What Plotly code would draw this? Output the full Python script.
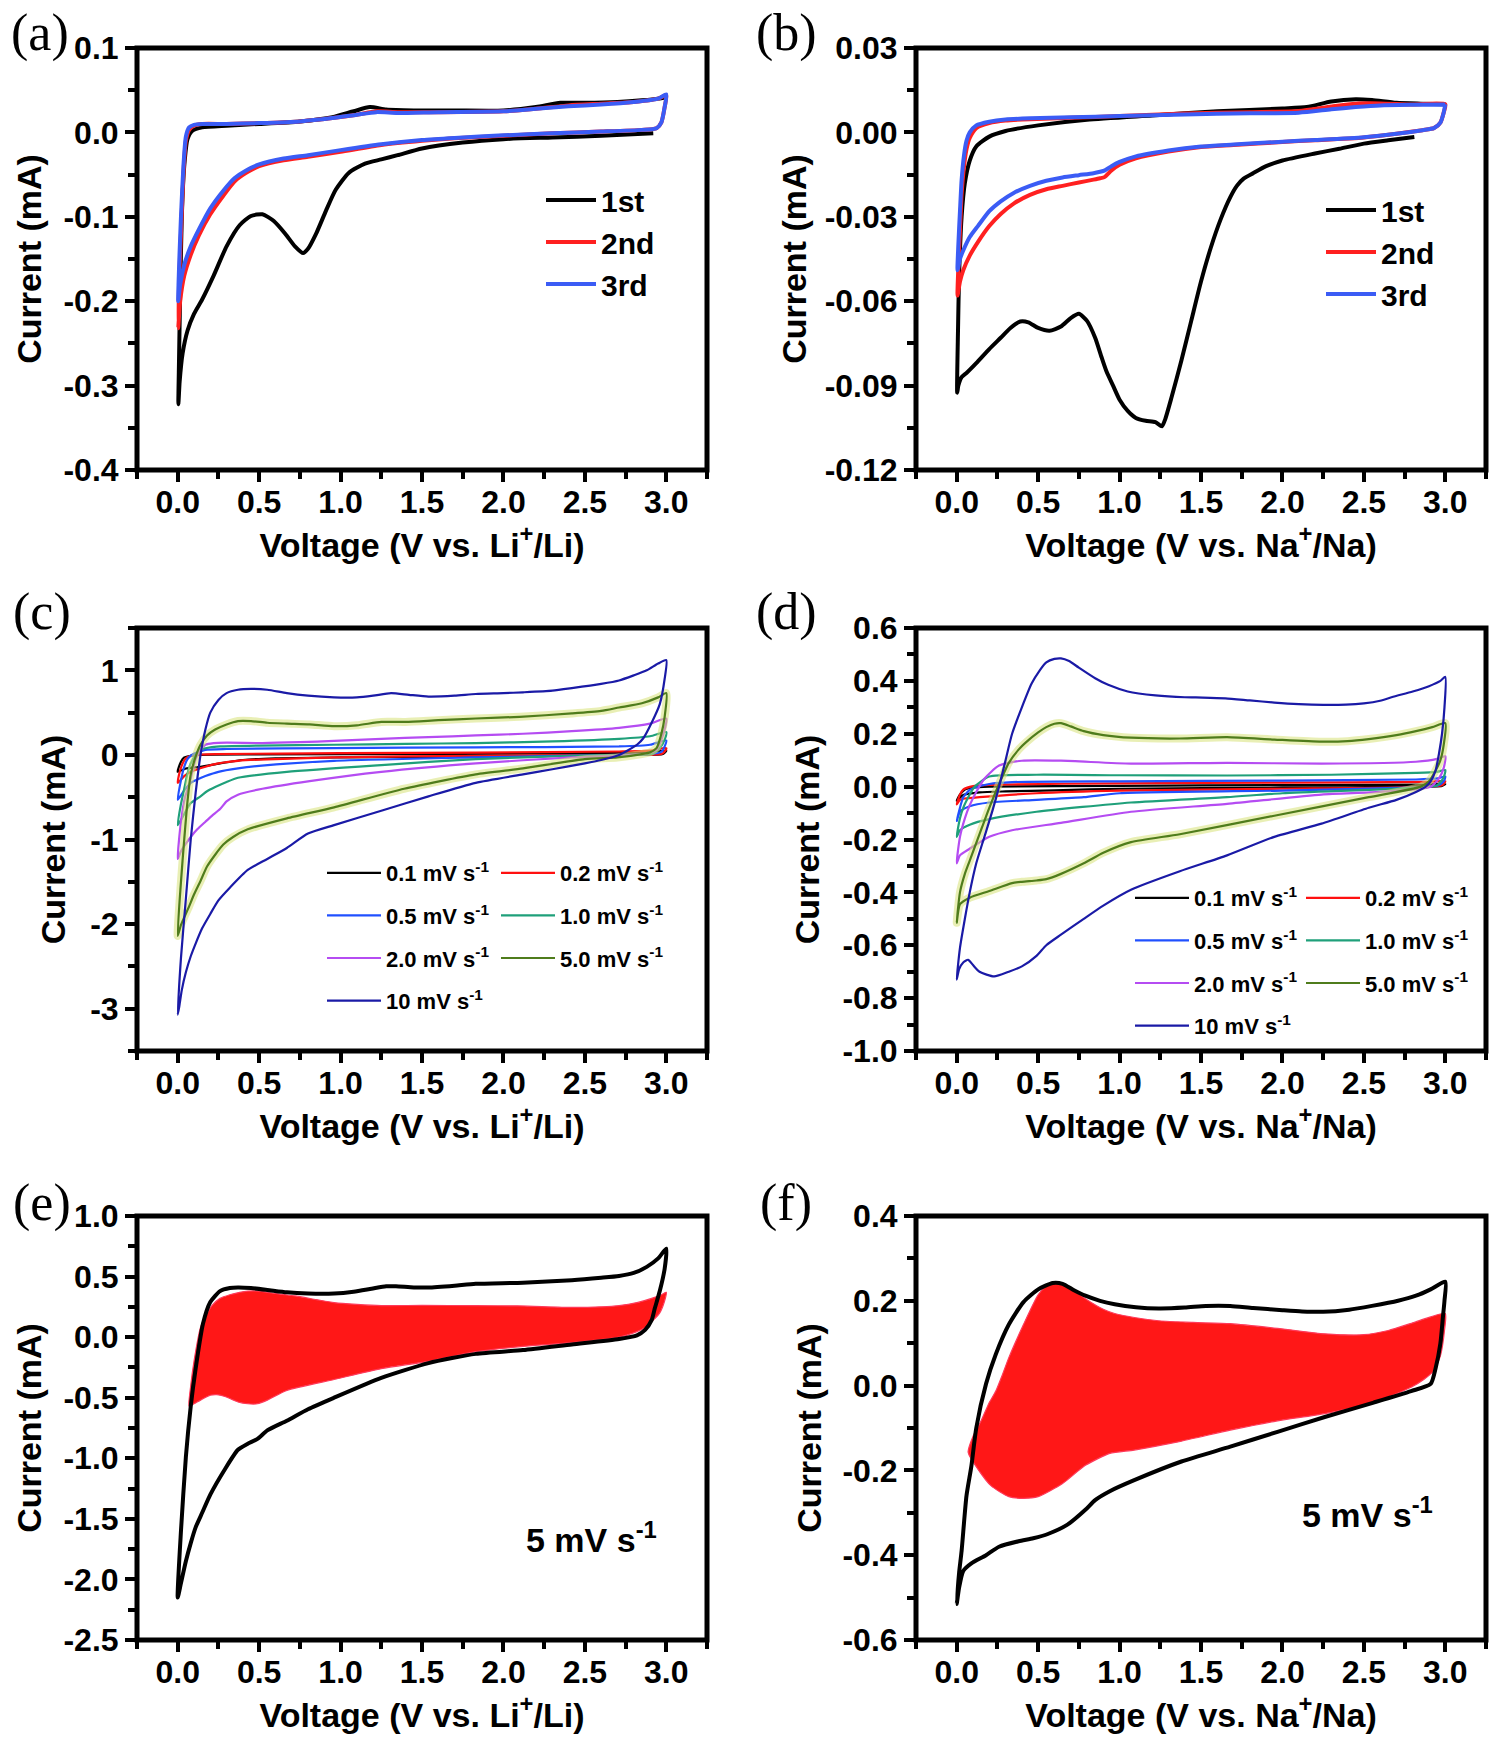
import plotly.graph_objects as go

# ---------------- DATA ----------------
# (a) Li, first three cycles at low rate
A1_V = [2.92, 2.6, 2.3, 2.0, 1.75, 1.5, 1.35, 1.25, 1.15, 1.05, 0.97, 0.91, 0.85, 0.80, 0.77, 0.72, 0.66, 0.59, 0.52, 0.45, 0.38, 0.30, 0.22, 0.15, 0.10, 0.06, 0.03, 0.012, 0.004, 0.008, 0.015, 0.025, 0.04, 0.06, 0.09, 0.15, 0.3, 0.5, 0.75, 0.95, 1.08, 1.18, 1.28, 1.45, 1.7, 2.0, 2.2, 2.35, 2.5, 2.7, 2.85, 2.95, 3.0]
A1_I = [-0.001, -0.004, -0.006, -0.008, -0.012, -0.019, -0.027, -0.032, -0.037, -0.048, -0.068, -0.093, -0.120, -0.138, -0.143, -0.135, -0.120, -0.105, -0.097, -0.099, -0.110, -0.135, -0.170, -0.198, -0.215, -0.235, -0.262, -0.295, -0.322, -0.27, -0.19, -0.10, -0.04, -0.008, 0.002, 0.006, 0.008, 0.010, 0.013, 0.018, 0.025, 0.030, 0.027, 0.026, 0.026, 0.026, 0.030, 0.035, 0.035, 0.036, 0.038, 0.040, 0.042]
A2_V = [3.0, 2.99, 2.97, 2.94, 2.85, 2.6, 2.3, 2.0, 1.7, 1.5, 1.25, 1.0, 0.8, 0.65, 0.5, 0.42, 0.35, 0.28, 0.2, 0.13, 0.08, 0.04, 0.015, 0.003, 0.01, 0.02, 0.035, 0.05, 0.07, 0.1, 0.15, 0.3, 0.5, 0.75, 0.95, 1.1, 1.22, 1.35, 1.6, 2.0, 2.2, 2.4, 2.6, 2.8, 2.95, 3.0]
A2_I = [0.044, 0.030, 0.012, 0.005, 0.003, 0.001, -0.001, -0.004, -0.007, -0.010, -0.015, -0.023, -0.029, -0.033, -0.040, -0.048, -0.058, -0.075, -0.097, -0.122, -0.145, -0.170, -0.200, -0.232, -0.17, -0.12, -0.05, -0.01, 0.003, 0.008, 0.010, 0.010, 0.011, 0.013, 0.017, 0.021, 0.025, 0.024, 0.024, 0.025, 0.028, 0.032, 0.034, 0.036, 0.040, 0.044]
A3_V = [3.0, 2.99, 2.97, 2.94, 2.85, 2.6, 2.3, 2.0, 1.7, 1.5, 1.25, 1.0, 0.8, 0.65, 0.5, 0.42, 0.35, 0.28, 0.2, 0.13, 0.08, 0.04, 0.015, 0.003, 0.01, 0.02, 0.035, 0.05, 0.07, 0.1, 0.15, 0.3, 0.5, 0.75, 0.95, 1.1, 1.22, 1.35, 1.6, 2.0, 2.2, 2.4, 2.6, 2.8, 2.95, 3.0]
A3_I = [0.045, 0.030, 0.012, 0.005, 0.003, 0.001, -0.001, -0.0035, -0.0065, -0.009, -0.014, -0.021, -0.027, -0.031, -0.038, -0.045, -0.054, -0.069, -0.090, -0.115, -0.135, -0.157, -0.180, -0.200, -0.15, -0.10, -0.04, -0.005, 0.006, 0.009, 0.010, 0.010, 0.011, 0.013, 0.017, 0.021, 0.024, 0.023, 0.024, 0.025, 0.028, 0.031, 0.033, 0.036, 0.040, 0.045]

# (b) Na, first three cycles at low rate
B1_V = [2.81, 2.65, 2.5, 2.35, 2.2, 2.0, 1.9, 1.82, 1.76, 1.72, 1.68, 1.62, 1.56, 1.5, 1.44, 1.38, 1.32, 1.28, 1.26, 1.22, 1.16, 1.1, 1.05, 1.0, 0.96, 0.92, 0.89, 0.85, 0.8, 0.75, 0.7, 0.64, 0.57, 0.5, 0.44, 0.39, 0.33, 0.27, 0.2, 0.12, 0.06, 0.03, 0.01, 0.003, 0.008, 0.015, 0.03, 0.05, 0.08, 0.12, 0.2, 0.3, 0.5, 0.8, 1.2, 1.6, 2.0, 2.15, 2.3, 2.45, 2.55, 2.7, 2.85, 3.0]
B1_I = [-0.0016, -0.0028, -0.004, -0.0058, -0.0075, -0.010, -0.012, -0.0145, -0.0165, -0.019, -0.023, -0.031, -0.041, -0.053, -0.067, -0.081, -0.094, -0.102, -0.1045, -0.103, -0.1025, -0.1015, -0.099, -0.095, -0.090, -0.085, -0.080, -0.073, -0.067, -0.0645, -0.066, -0.069, -0.0705, -0.0695, -0.0675, -0.0672, -0.0695, -0.073, -0.077, -0.082, -0.0855, -0.087, -0.090, -0.0925, -0.070, -0.050, -0.030, -0.018, -0.010, -0.005, -0.0015, 0.0005, 0.0025, 0.0045, 0.006, 0.0075, 0.0085, 0.009, 0.011, 0.0118, 0.0115, 0.0105, 0.0102, 0.010]
B2_V = [3.0, 2.99, 2.97, 2.93, 2.86, 2.7, 2.5, 2.2, 2.0, 1.7, 1.5, 1.3, 1.1, 1.0, 0.95, 0.91, 0.88, 0.84, 0.75, 0.65, 0.55, 0.45, 0.35, 0.27, 0.2, 0.13, 0.08, 0.04, 0.02, 0.005, 0.01, 0.02, 0.03, 0.045, 0.06, 0.08, 0.12, 0.2, 0.3, 0.45, 0.7, 1.0, 1.4, 1.8, 2.1, 2.3, 2.45, 2.6, 2.8, 3.0]
B2_I = [0.010, 0.007, 0.0035, 0.0015, 0.0008, -0.0005, -0.0018, -0.0028, -0.0034, -0.0045, -0.0052, -0.0068, -0.0092, -0.0115, -0.0135, -0.0158, -0.0163, -0.0168, -0.0178, -0.019, -0.0202, -0.0222, -0.0253, -0.029, -0.0333, -0.039, -0.0438, -0.049, -0.053, -0.058, -0.048, -0.035, -0.022, -0.012, -0.006, -0.002, 0.0015, 0.0033, 0.0042, 0.0047, 0.0052, 0.0058, 0.0067, 0.0072, 0.0076, 0.0092, 0.0102, 0.0103, 0.0099, 0.010]
B3_V = [3.0, 2.99, 2.97, 2.93, 2.86, 2.7, 2.5, 2.2, 2.0, 1.7, 1.5, 1.3, 1.1, 1.0, 0.95, 0.91, 0.88, 0.84, 0.75, 0.65, 0.55, 0.45, 0.35, 0.27, 0.2, 0.13, 0.08, 0.04, 0.02, 0.005, 0.01, 0.02, 0.03, 0.045, 0.06, 0.08, 0.12, 0.2, 0.3, 0.45, 0.7, 1.0, 1.4, 1.8, 2.1, 2.3, 2.45, 2.6, 2.8, 3.0]
B3_I = [0.010, 0.007, 0.0035, 0.0015, 0.0008, -0.0005, -0.0017, -0.0027, -0.0033, -0.0043, -0.005, -0.0064, -0.0085, -0.0105, -0.012, -0.0135, -0.014, -0.0145, -0.0152, -0.016, -0.0172, -0.019, -0.0215, -0.0245, -0.028, -0.0333, -0.0372, -0.042, -0.045, -0.049, -0.040, -0.028, -0.017, -0.008, -0.003, 0.0, 0.0025, 0.0038, 0.0046, 0.005, 0.0054, 0.0058, 0.0064, 0.0068, 0.007, 0.0082, 0.009, 0.0096, 0.0098, 0.0099]

# (c) Li, different scan rates
C01_V = [0.0, 0.02, 0.04, 0.08, 0.14, 0.5, 1.5, 2.5, 2.9, 3.0, 2.98, 2.8, 1.83, 1.0, 0.6, 0.4, 0.26, 0.14, 0.05, 0.0]
C01_I = [-0.2, -0.08, -0.03, -0.01, 0.0, 0.005, 0.01, 0.02, 0.03, 0.05, 0.01, 0.0, -0.02, -0.03, -0.04, -0.06, -0.1, -0.14, -0.16, -0.2]
C02_V = [0.0, 0.02, 0.05, 0.08, 0.15, 0.23, 1.0, 1.83, 2.71, 2.9, 3.0, 2.99, 2.97, 2.8, 1.83, 0.96, 0.5, 0.37, 0.25, 0.17, 0.08, 0.04, 0.0]
C02_I = [-0.33, -0.15, -0.04, -0.01, 0.005, 0.01, 0.02, 0.026, 0.04, 0.05, 0.08, 0.04, 0.01, 0.0, -0.01, -0.03, -0.055, -0.07, -0.1, -0.14, -0.2, -0.25, -0.33]
C05_V = [0.0, 0.02, 0.04, 0.06, 0.08, 0.12, 0.17, 0.3, 0.96, 1.83, 2.71, 2.9, 3.0, 2.99, 2.97, 2.9, 2.71, 1.83, 0.96, 0.5, 0.37, 0.25, 0.17, 0.12, 0.08, 0.04, 0.0]
C05_I = [-0.53, -0.3, -0.14, -0.05, -0.01, 0.03, 0.06, 0.07, 0.08, 0.09, 0.10, 0.12, 0.17, 0.1, 0.035, 0.01, 0.0, -0.03, -0.07, -0.13, -0.16, -0.2, -0.25, -0.29, -0.33, -0.42, -0.53]
C1_V = [0.0, 0.02, 0.04, 0.06, 0.08, 0.11, 0.14, 0.2, 0.26, 0.5, 0.96, 1.4, 1.83, 2.3, 2.71, 2.9, 3.0, 2.99, 2.96, 2.91, 2.8, 2.42, 1.83, 1.25, 0.67, 0.37, 0.3, 0.23, 0.18, 0.14, 0.08, 0.04, 0.0]
C1_I = [-0.83, -0.58, -0.4, -0.22, -0.1, 0.0, 0.06, 0.09, 0.10, 0.11, 0.12, 0.13, 0.14, 0.16, 0.19, 0.22, 0.27, 0.18, 0.08, 0.01, 0.0, -0.01, -0.05, -0.12, -0.2, -0.27, -0.32, -0.38, -0.43, -0.49, -0.57, -0.7, -0.83]
C2_V = [0.0, 0.02, 0.045, 0.07, 0.09, 0.11, 0.14, 0.17, 0.22, 0.3, 0.52, 0.75, 0.96, 1.25, 1.54, 1.83, 2.12, 2.42, 2.71, 2.9, 3.0, 2.99, 2.97, 2.94, 2.88, 2.8, 2.42, 1.83, 1.25, 0.81, 0.52, 0.37, 0.3, 0.26, 0.21, 0.17, 0.12, 0.08, 0.05, 0.02, 0.0]
C2_I = [-1.23, -0.79, -0.5, -0.36, -0.2, -0.05, 0.06, 0.12, 0.14, 0.145, 0.14, 0.15, 0.165, 0.19, 0.21, 0.23, 0.25, 0.28, 0.32, 0.37, 0.43, 0.3, 0.18, 0.06, 0.02, 0.0, -0.03, -0.1, -0.2, -0.31, -0.40, -0.47, -0.55, -0.64, -0.72, -0.79, -0.88, -0.97, -1.05, -1.14, -1.23]
C5_V = [0.0, 0.02, 0.04, 0.06, 0.08, 0.11, 0.14, 0.18, 0.23, 0.3, 0.37, 0.45, 0.55, 0.67, 0.81, 0.96, 1.1, 1.25, 1.4, 1.6, 1.83, 2.1, 2.42, 2.6, 2.71, 2.85, 2.95, 3.0, 2.99, 2.97, 2.94, 2.9, 2.85, 2.7, 2.5, 2.12, 1.83, 1.39, 0.96, 0.67, 0.43, 0.34, 0.28, 0.23, 0.18, 0.14, 0.1, 0.07, 0.04, 0.02, 0.0]
C5_I = [-2.14, -1.5, -1.0, -0.55, -0.23, -0.02, 0.12, 0.23, 0.30, 0.36, 0.40, 0.40, 0.38, 0.37, 0.36, 0.34, 0.35, 0.39, 0.39, 0.41, 0.43, 0.45, 0.49, 0.52, 0.56, 0.61, 0.68, 0.73, 0.45, 0.25, 0.08, 0.03, 0.01, -0.03, -0.05, -0.16, -0.23, -0.40, -0.62, -0.75, -0.88, -0.97, -1.06, -1.18, -1.32, -1.49, -1.65, -1.79, -1.92, -2.01, -2.14]
C10_V = [0.0, 0.02, 0.05, 0.08, 0.11, 0.14, 0.17, 0.2, 0.25, 0.3, 0.37, 0.45, 0.55, 0.67, 0.8, 0.96, 1.1, 1.2, 1.31, 1.42, 1.54, 1.7, 1.83, 2.0, 2.12, 2.3, 2.42, 2.6, 2.71, 2.8, 2.88, 2.95, 3.0, 2.99, 2.96, 2.91, 2.86, 2.82, 2.76, 2.71, 2.6, 2.5, 2.3, 2.12, 1.83, 1.54, 1.25, 0.96, 0.8, 0.67, 0.55, 0.43, 0.32, 0.25, 0.2, 0.15, 0.11, 0.08, 0.05, 0.025, 0.01, 0.0]
C10_I = [-3.07, -2.4, -1.7, -1.0, -0.45, 0.0, 0.3, 0.5, 0.65, 0.73, 0.77, 0.78, 0.77, 0.73, 0.70, 0.68, 0.68, 0.70, 0.73, 0.71, 0.69, 0.70, 0.72, 0.73, 0.74, 0.76, 0.79, 0.84, 0.88, 0.94, 1.0, 1.08, 1.12, 0.9, 0.6, 0.38, 0.2, 0.12, 0.05, 0.0, -0.06, -0.1, -0.17, -0.23, -0.33, -0.49, -0.66, -0.83, -0.93, -1.1, -1.23, -1.36, -1.57, -1.72, -1.88, -2.05, -2.23, -2.38, -2.57, -2.78, -2.97, -3.07]

# (d) Na, different scan rates
D01_V = [0.0, 0.02, 0.05, 0.1, 0.2, 1.0, 2.0, 2.9, 3.0, 2.98, 2.8, 2.0, 1.0, 0.6, 0.3, 0.14, 0.04, 0.0]
D01_I = [-0.053, -0.03, -0.011, -0.003, 0.0, 0.003, 0.006, 0.008, 0.01, 0.003, 0.0, -0.004, -0.008, -0.014, -0.018, -0.022, -0.032, -0.053]
D02_V = [0.0, 0.02, 0.04, 0.08, 0.11, 0.3, 1.0, 2.0, 2.9, 3.0, 2.98, 2.8, 2.0, 1.0, 0.49, 0.14, 0.05, 0.02, 0.0]
D02_I = [-0.067, -0.03, -0.011, -0.001, 0.003, 0.008, 0.0125, 0.015, 0.018, 0.02, 0.005, -0.002, -0.008, -0.015, -0.025, -0.04, -0.045, -0.05, -0.067]
D05_V = [0.0, 0.02, 0.04, 0.08, 0.11, 0.2, 0.34, 1.0, 2.0, 2.82, 2.95, 3.0, 2.99, 2.95, 2.7, 2.0, 1.0, 0.78, 0.49, 0.2, 0.08, 0.02, 0.0]
D05_I = [-0.13, -0.08, -0.04, -0.012, -0.004, 0.01, 0.017, 0.02, 0.023, 0.027, 0.031, 0.038, 0.02, 0.003, -0.005, -0.015, -0.025, -0.04, -0.05, -0.06, -0.074, -0.095, -0.13]
D1_V = [0.0, 0.02, 0.04, 0.08, 0.11, 0.2, 0.49, 1.0, 1.66, 2.3, 2.82, 2.95, 3.0, 2.99, 2.95, 2.8, 2.0, 1.66, 1.07, 0.49, 0.2, 0.08, 0.02, 0.0]
D1_I = [-0.19, -0.12, -0.08, -0.03, 0.0, 0.038, 0.045, 0.043, 0.042, 0.045, 0.052, 0.056, 0.063, 0.035, 0.005, -0.005, -0.025, -0.04, -0.06, -0.095, -0.123, -0.144, -0.165, -0.19]
D2_V = [0.0, 0.02, 0.05, 0.08, 0.12, 0.17, 0.26, 0.4, 0.64, 1.07, 1.66, 2.24, 2.82, 2.95, 3.0, 2.99, 2.96, 2.91, 2.6, 2.24, 1.66, 1.07, 0.64, 0.34, 0.2, 0.08, 0.02, 0.0]
D2_I = [-0.29, -0.19, -0.12, -0.07, -0.02, 0.03, 0.08, 0.098, 0.098, 0.087, 0.09, 0.087, 0.094, 0.105, 0.115, 0.07, 0.03, 0.0, -0.02, -0.03, -0.065, -0.095, -0.137, -0.165, -0.19, -0.235, -0.26, -0.29]
D5_V = [0.0, 0.02, 0.05, 0.08, 0.14, 0.2, 0.26, 0.32, 0.38, 0.43, 0.5, 0.55, 0.6, 0.64, 0.7, 0.78, 0.9, 1.07, 1.37, 1.66, 1.95, 2.24, 2.4, 2.53, 2.7, 2.82, 2.92, 3.0, 2.99, 2.97, 2.94, 2.9, 2.85, 2.53, 1.95, 1.37, 1.07, 0.9, 0.78, 0.64, 0.55, 0.49, 0.4, 0.34, 0.2, 0.08, 0.02, 0.0]
D5_I = [-0.515, -0.40, -0.33, -0.28, -0.18, -0.08, 0.01, 0.09, 0.14, 0.17, 0.205, 0.225, 0.238, 0.24, 0.228, 0.21, 0.195, 0.185, 0.182, 0.187, 0.178, 0.17, 0.172, 0.18, 0.195, 0.21, 0.225, 0.24, 0.157, 0.1, 0.06, 0.02, 0.0, -0.04, -0.11, -0.18, -0.21, -0.25, -0.29, -0.33, -0.35, -0.355, -0.36, -0.365, -0.395, -0.42, -0.445, -0.515]
D10_V = [0.0, 0.02, 0.05, 0.08, 0.12, 0.17, 0.22, 0.26, 0.3, 0.34, 0.4, 0.46, 0.51, 0.55, 0.6, 0.64, 0.69, 0.75, 0.85, 0.93, 1.05, 1.22, 1.4, 1.51, 1.65, 1.8, 1.95, 2.1, 2.25, 2.39, 2.5, 2.6, 2.68, 2.8, 2.9, 2.97, 3.0, 2.995, 2.98, 2.96, 2.94, 2.91, 2.88, 2.82, 2.7, 2.53, 2.24, 1.95, 1.66, 1.37, 1.07, 0.9, 0.78, 0.64, 0.55, 0.49, 0.4, 0.32, 0.23, 0.14, 0.1, 0.07, 0.04, 0.015, 0.0]
D10_I = [-0.73, -0.61, -0.50, -0.40, -0.29, -0.19, -0.09, 0.0, 0.10, 0.2, 0.30, 0.39, 0.44, 0.47, 0.483, 0.485, 0.475, 0.45, 0.41, 0.385, 0.36, 0.345, 0.338, 0.337, 0.334, 0.326, 0.318, 0.312, 0.309, 0.31, 0.315, 0.325, 0.34, 0.36, 0.38, 0.40, 0.415, 0.3, 0.2, 0.12, 0.06, 0.02, 0.0, -0.02, -0.05, -0.08, -0.14, -0.19, -0.26, -0.32, -0.39, -0.45, -0.50, -0.56, -0.60, -0.64, -0.68, -0.70, -0.718, -0.70, -0.675, -0.655, -0.665, -0.69, -0.73]

# (e) Li, 5 mV/s, full CV and capacitive contribution (shaded)
E_CV_V = [0.0, 0.02, 0.05, 0.08, 0.11, 0.155, 0.2, 0.26, 0.32, 0.37, 0.45, 0.55, 0.67, 0.8, 0.96, 1.08, 1.19, 1.28, 1.34, 1.45, 1.54, 1.7, 1.83, 2.12, 2.42, 2.6, 2.71, 2.8, 2.88, 2.95, 3.0, 2.99, 2.96, 2.93, 2.91, 2.87, 2.82, 2.71, 2.42, 2.12, 1.83, 1.54, 1.25, 0.96, 0.8, 0.67, 0.55, 0.49, 0.43, 0.37, 0.29, 0.2, 0.15, 0.11, 0.08, 0.05, 0.02, 0.0]
E_CV_I = [-2.15, -1.6, -0.99, -0.57, -0.26, 0.11, 0.29, 0.38, 0.405, 0.41, 0.405, 0.39, 0.37, 0.36, 0.36, 0.375, 0.40, 0.42, 0.42, 0.41, 0.41, 0.425, 0.44, 0.45, 0.47, 0.49, 0.505, 0.53, 0.58, 0.65, 0.73, 0.565, 0.38, 0.24, 0.14, 0.06, 0.015, -0.015, -0.06, -0.107, -0.138, -0.214, -0.336, -0.50, -0.595, -0.69, -0.77, -0.84, -0.88, -0.93, -1.09, -1.30, -1.45, -1.57, -1.70, -1.85, -2.03, -2.15]
E_CAP_V = [0.07, 0.08, 0.1, 0.14, 0.17, 0.21, 0.26, 0.32, 0.38, 0.43, 0.5, 0.55, 0.63, 0.72, 0.85, 0.96, 1.1, 1.25, 1.5, 1.83, 2.1, 2.42, 2.6, 2.71, 2.82, 2.91, 2.97, 3.0, 2.99, 2.96, 2.92, 2.87, 2.82, 2.71, 2.42, 2.12, 1.83, 1.54, 1.25, 0.96, 0.67, 0.55, 0.49, 0.43, 0.37, 0.29, 0.24, 0.2, 0.14, 0.1, 0.07]
E_CAP_I = [-0.57, -0.40, -0.2, 0.08, 0.17, 0.26, 0.32, 0.35, 0.37, 0.38, 0.38, 0.37, 0.355, 0.34, 0.31, 0.285, 0.27, 0.26, 0.262, 0.26, 0.258, 0.245, 0.25, 0.26, 0.285, 0.32, 0.35, 0.37, 0.30, 0.2, 0.14, 0.08, 0.046, 0.0, -0.046, -0.076, -0.12, -0.2, -0.26, -0.35, -0.44, -0.52, -0.55, -0.55, -0.535, -0.49, -0.475, -0.48, -0.52, -0.55, -0.57]

# (f) Na, 5 mV/s, full CV and capacitive contribution (shaded)
F_CV_V = [0.0, 0.015, 0.03, 0.06, 0.09, 0.12, 0.18, 0.24, 0.32, 0.41, 0.5, 0.59, 0.65, 0.72, 0.79, 0.88, 0.97, 1.1, 1.24, 1.4, 1.53, 1.68, 1.82, 2.0, 2.12, 2.25, 2.41, 2.55, 2.71, 2.82, 2.91, 3.0, 2.995, 2.985, 2.97, 2.94, 2.91, 2.79, 2.56, 2.26, 1.97, 1.68, 1.38, 1.09, 0.94, 0.85, 0.79, 0.68, 0.56, 0.47, 0.38, 0.26, 0.18, 0.09, 0.04, 0.015, 0.0]
F_CV_I = [-0.515, -0.44, -0.39, -0.26, -0.19, -0.10, 0.004, 0.074, 0.144, 0.197, 0.227, 0.242, 0.24, 0.225, 0.212, 0.2, 0.192, 0.185, 0.182, 0.184, 0.188, 0.188, 0.183, 0.178, 0.175, 0.174, 0.179, 0.188, 0.2, 0.212, 0.227, 0.245, 0.2, 0.16, 0.1, 0.04, 0.004, -0.013, -0.04, -0.074, -0.109, -0.144, -0.179, -0.223, -0.249, -0.27, -0.293, -0.328, -0.35, -0.36, -0.367, -0.38, -0.40, -0.419, -0.437, -0.476, -0.515]
F_CAP_V = [0.07, 0.1, 0.15, 0.2, 0.24, 0.28, 0.32, 0.41, 0.5, 0.55, 0.59, 0.63, 0.68, 0.79, 0.9, 0.97, 1.1, 1.24, 1.45, 1.68, 1.97, 2.26, 2.5, 2.65, 2.8, 2.91, 3.0, 2.995, 2.97, 2.93, 2.87, 2.79, 2.56, 2.26, 1.97, 1.68, 1.38, 1.09, 0.94, 0.79, 0.65, 0.5, 0.41, 0.32, 0.21, 0.13, 0.07]
F_CAP_I = [-0.157, -0.12, -0.083, -0.04, -0.013, 0.025, 0.066, 0.144, 0.214, 0.235, 0.244, 0.243, 0.236, 0.205, 0.18, 0.17, 0.16, 0.153, 0.149, 0.146, 0.135, 0.122, 0.12, 0.13, 0.148, 0.162, 0.17, 0.13, 0.07, 0.035, 0.015, -0.004, -0.04, -0.066, -0.083, -0.105, -0.131, -0.152, -0.16, -0.188, -0.231, -0.262, -0.266, -0.262, -0.236, -0.197, -0.157]

# tick labels
X_TICKS = [0.0, 0.5, 1.0, 1.5, 2.0, 2.5, 3.0]
X_TEXT = ["0.0", "0.5", "1.0", "1.5", "2.0", "2.5", "3.0"]
YA_TICKS = [0.1, 0.0, -0.1, -0.2, -0.3, -0.4]
YA_TEXT = ["0.1", "0.0", "-0.1", "-0.2", "-0.3", "-0.4"]
YB_TICKS = [0.03, 0.0, -0.03, -0.06, -0.09, -0.12]
YB_TEXT = ["0.03", "0.00", "-0.03", "-0.06", "-0.09", "-0.12"]
YC_TICKS = [1, 0, -1, -2, -3]
YC_TEXT = ["1", "0", "-1", "-2", "-3"]
YD_TICKS = [0.6, 0.4, 0.2, 0.0, -0.2, -0.4, -0.6, -0.8, -1.0]
YD_TEXT = ["0.6", "0.4", "0.2", "0.0", "-0.2", "-0.4", "-0.6", "-0.8", "-1.0"]
YE_TICKS = [1.0, 0.5, 0.0, -0.5, -1.0, -1.5, -2.0, -2.5]
YE_TEXT = ["1.0", "0.5", "0.0", "-0.5", "-1.0", "-1.5", "-2.0", "-2.5"]
YF_TICKS = [0.4, 0.2, 0.0, -0.2, -0.4, -0.6]
YF_TEXT = ["0.4", "0.2", "0.0", "-0.2", "-0.4", "-0.6"]

CYCLE_NAMES = ["1st", "2nd", "3rd"]
RATE_NAMES = ["0.1 mV s<sup>-1</sup>", "0.2 mV s<sup>-1</sup>", "0.5 mV s<sup>-1</sup>",
              "1.0 mV s<sup>-1</sup>", "2.0 mV s<sup>-1</sup>", "5.0 mV s<sup>-1</sup>",
              "10 mV s<sup>-1</sup>"]

# ---------------- STYLE ----------------
SANS = "Liberation Sans, Arial, sans-serif"
SERIF = "Liberation Serif, Times New Roman, serif"
CYC_COLORS = ["#000000", "#ff2020", "#3b5cf5"]
RATE_COLORS = ["#000000", "#ff1010", "#2050ff", "#1fa07a", "#b54cf2", "#4f7c1c", "#1a1aa6"]

fig = go.Figure()

def ax(k):
    return ("x" if k == 1 else f"x{k}"), ("y" if k == 1 else f"y{k}")

def line(k, V, I, color, width, name=None, legend=None, group=None):
    xa, ya = ax(k)
    fig.add_trace(go.Scatter(
        x=V, y=I, xaxis=xa, yaxis=ya, mode="lines", name=name,
        line=dict(color=color, width=width, shape="spline", smoothing=0.6),
        showlegend=name is not None, legend=legend, legendgroup=group,
        hoverinfo="skip"))

# (a)
for V, I, c, n in zip([A1_V, A2_V, A3_V], [A1_I, A2_I, A3_I], CYC_COLORS, CYCLE_NAMES):
    line(1, V, I, c, 4, n, "legend")
# (b)
for V, I, c, n in zip([B1_V, B2_V, B3_V], [B1_I, B2_I, B3_I], CYC_COLORS, CYCLE_NAMES):
    line(2, V, I, c, 4, n, "legend2")

# (c) & (d)
C_SETS = [(C01_V, C01_I), (C02_V, C02_I), (C05_V, C05_I), (C1_V, C1_I), (C2_V, C2_I), (C5_V, C5_I), (C10_V, C10_I)]
D_SETS = [(D01_V, D01_I), (D02_V, D02_I), (D05_V, D05_I), (D1_V, D1_I), (D2_V, D2_I), (D5_V, D5_I), (D10_V, D10_I)]
for k, sets, legs in [(3, C_SETS, ("legend3", "legend4")), (4, D_SETS, ("legend5", "legend6"))]:
    for idx, ((V, I), c, n) in enumerate(zip(sets, RATE_COLORS, RATE_NAMES)):
        if idx == 5:  # glow under the 5 mV/s curve
            line(k, V, I, "rgba(215,225,120,0.55)", 8)
        line(k, V, I, c, 2.2, n, legs[idx % 2], group=f"g{k}_{idx}")

# (e) & (f)
for k, (CV, CI), (PV, PI) in [(5, (E_CV_V, E_CV_I), (E_CAP_V, E_CAP_I)),
                              (6, (F_CV_V, F_CV_I), (F_CAP_V, F_CAP_I))]:
    xa, ya = ax(k)
    fig.add_trace(go.Scatter(x=PV, y=PI, xaxis=xa, yaxis=ya, mode="lines", fill="toself",
                             fillcolor="#ff1717", line=dict(color="#ff3a5a", width=1.2, shape="spline", smoothing=0.6),
                             showlegend=False, hoverinfo="skip"))
    line(k, CV, CI, "#000000", 4)

# ---------------- AXES ----------------
W, H = 1501, 1741
COLX = [(137, 707), (916, 1486)]
ROWY = [(48, 470), (628, 1051), (1216, 1640)]
Y_SPECS = [
    ([-0.4, 0.1], YA_TICKS, YA_TEXT, -0.4, 0.05),
    ([-0.12, 0.03], YB_TICKS, YB_TEXT, -0.12, 0.015),
    ([-3.5, 1.5], YC_TICKS, YC_TEXT, -3.5, 0.5),
    ([-1.0, 0.6], YD_TICKS, YD_TEXT, -1.0, 0.1),
    ([-2.5, 1.0], YE_TICKS, YE_TEXT, -2.5, 0.25),
    ([-0.6, 0.4], YF_TICKS, YF_TEXT, -0.6, 0.1),
]
Y_STANDOFF = [11, 7, 14, 12, 11, 10]
X_TITLES = ["Voltage (V vs. Li<sup>+</sup>/Li)", "Voltage (V vs. Na<sup>+</sup>/Na)"]

tickfont = dict(family=SANS, size=32, color="black", weight="bold")
titlefont = dict(family=SANS, size=34, color="black", weight="bold")

for k in range(1, 7):
    col = (k - 1) % 2
    row = (k - 1) // 2
    x0, x1 = COLX[col]
    yt, yb = ROWY[row]
    xname = "xaxis" if k == 1 else f"xaxis{k}"
    yname = "yaxis" if k == 1 else f"yaxis{k}"
    xa, ya = ax(k)
    common = dict(showline=False, automargin=False,
                  showgrid=False, zeroline=False, ticks="outside", ticklen=11,
                  tickwidth=4, tickcolor="black", tickfont=tickfont)
    fig.layout[xname] = dict(
        domain=[x0 / W, x1 / W], anchor=ya, range=[-0.25, 3.25],
        tickmode="array", tickvals=X_TICKS, ticktext=X_TEXT, ticklabelstandoff=-7,
        minor=dict(tick0=-0.25, dtick=0.5, ticks="outside", ticklen=8, tickwidth=4, tickcolor="black"),
        title=dict(text=X_TITLES[col], font=titlefont, standoff=10),
        **common)
    yr, yv, ytx, y0, ydt = Y_SPECS[k - 1]
    fig.layout[yname] = dict(
        domain=[1 - yb / H, 1 - yt / H], anchor=xa, range=yr,
        tickmode="array", tickvals=yv, ticktext=ytx,
        minor=dict(tick0=y0, dtick=ydt, ticks="outside", ticklen=8, tickwidth=4, tickcolor="black"),
        title=dict(text="Current (mA)", font=titlefont, standoff=Y_STANDOFF[k - 1]),
        **common)
    # frame around the plotting area
    fig.add_shape(type="rect", xref=f"{xa} domain", yref=f"{ya} domain",
                  x0=0, x1=1, y0=0, y1=1, layer="above",
                  line=dict(color="black", width=5))

# ---------------- LEGENDS ----------------
big_leg = dict(font=dict(family=SANS, size=30, color="black", weight="bold"),
               bgcolor="rgba(0,0,0,0)", itemwidth=50, tracegroupgap=0,
               xanchor="left", yanchor="top")
small_leg = dict(font=dict(family=SANS, size=22, color="black", weight="bold"),
                 bgcolor="rgba(0,0,0,0)", itemwidth=54, tracegroupgap=11,
                 xanchor="left", yanchor="top")
fig.update_layout(
    legend=dict(x=541 / W, y=1 - 174 / H, **big_leg),
    legend2=dict(x=1321 / W, y=1 - 184 / H, **big_leg),
    legend3=dict(x=322 / W, y=1 - 852 / H, **small_leg),
    legend4=dict(x=496 / W, y=1 - 852 / H, **small_leg),
    legend5=dict(x=1130 / W, y=1 - 877 / H, **small_leg),
    legend6=dict(x=1301 / W, y=1 - 877 / H, **small_leg),
)

# ---------------- ANNOTATIONS ----------------
PANEL_LABELS = ["(a)", "(b)", "(c)", "(d)", "(e)", "(f)"]
LABEL_POS = [(40, 33), (786, 33), (42, 612), (786, 612), (42, 1203), (786, 1203)]
for lab, (px, py) in zip(PANEL_LABELS, LABEL_POS):
    fig.add_annotation(text=lab, x=px / W, y=1 - py / H, xref="paper", yref="paper",
                       showarrow=False, xanchor="center", yanchor="middle",
                       font=dict(family=SERIF, size=52, color="black"))

RATE_NOTE = "5 mV s<sup>-1</sup>"
fig.add_annotation(text=RATE_NOTE, x=2.54, y=-1.65, xref="x5", yref="y5", showarrow=False,
                   font=dict(family=SANS, size=34, color="black", weight="bold"))
fig.add_annotation(text=RATE_NOTE, x=2.52, y=-0.30, xref="x6", yref="y6", showarrow=False,
                   font=dict(family=SANS, size=34, color="black", weight="bold"))

fig.update_layout(width=W, height=H, margin=dict(l=0, r=0, t=0, b=0),
                  paper_bgcolor="white", plot_bgcolor="white")

fig.write_html("out.html", config={"displayModeBar": False},
               post_script="document.body.style.margin='0px';")
